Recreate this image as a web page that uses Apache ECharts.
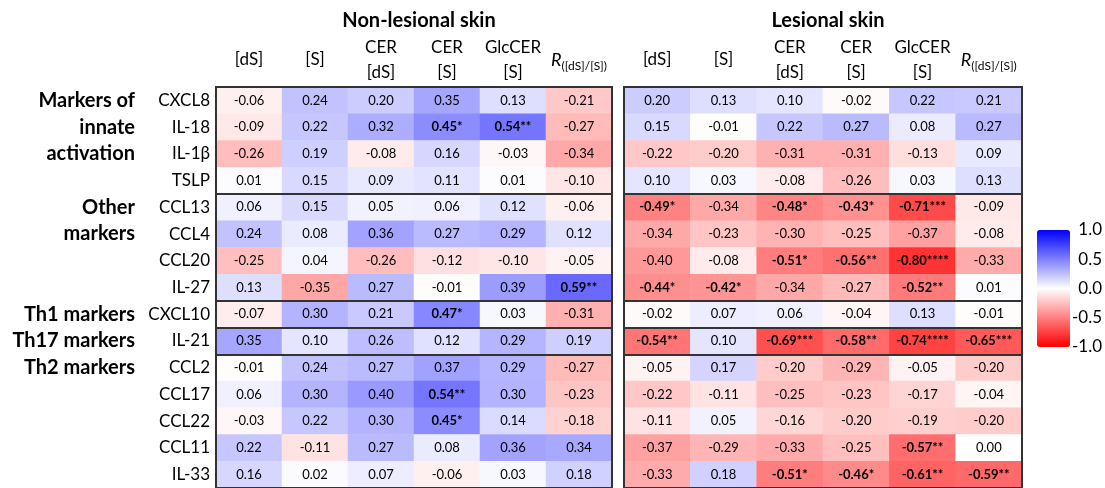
<!DOCTYPE html>
<html>
<head>
<meta charset="utf-8">
<script src="https://cdn.jsdelivr.net/npm/echarts@6/dist/echarts.min.js"></script>
<style>
  html, body { margin: 0; padding: 0; background: #fff; }
  #main { width: 1105px; height: 488px; }
</style>
</head>
<body>
<div id="main"></div>
<script>
var columns = ['[dS]', '[S]', 'CER\n[dS]', 'CER\n[S]', 'GlcCER\n[S]', 'R([dS]/[S])'];
var markers = ['CXCL8', 'IL-18', 'IL-1β', 'TSLP', 'CCL13', 'CCL4', 'CCL20', 'IL-27',
               'CXCL10', 'IL-21', 'CCL2', 'CCL17', 'CCL22', 'CCL11', 'IL-33'];
var groupLabels = ['Markers of', 'innate', 'activation', '', 'Other', 'markers', '', '',
                   'Th1 markers', 'Th17 markers', 'Th2 markers', '', '', '', ''];
// rows where a new marker group starts (thick line above)
var groupStarts = [4, 8, 9, 10];

var nonLesional = [
  [-0.06, 0.24, 0.20, 0.35, 0.13, -0.21],
  [-0.09, 0.22, 0.32, 0.45, 0.54, -0.27],
  [-0.26, 0.19, -0.08, 0.16, -0.03, -0.34],
  [0.01, 0.15, 0.09, 0.11, 0.01, -0.10],
  [0.06, 0.15, 0.05, 0.06, 0.12, -0.06],
  [0.24, 0.08, 0.36, 0.27, 0.29, 0.12],
  [-0.25, 0.04, -0.26, -0.12, -0.10, -0.05],
  [0.13, -0.35, 0.27, -0.01, 0.39, 0.59],
  [-0.07, 0.30, 0.21, 0.47, 0.03, -0.31],
  [0.35, 0.10, 0.26, 0.12, 0.29, 0.19],
  [-0.01, 0.24, 0.27, 0.37, 0.29, -0.27],
  [0.06, 0.30, 0.40, 0.54, 0.30, -0.23],
  [-0.03, 0.22, 0.30, 0.45, 0.14, -0.18],
  [0.22, -0.11, 0.27, 0.08, 0.36, 0.34],
  [0.16, 0.02, 0.07, -0.06, 0.03, 0.18]
];
// [row, col, stars]
var nonLesionalStars = [[1, 3, '*'], [1, 4, '**'], [7, 5, '**'], [8, 3, '*'], [11, 3, '**'], [12, 3, '*']];

var lesional = [
  [0.20, 0.13, 0.10, -0.02, 0.22, 0.21],
  [0.15, -0.01, 0.22, 0.27, 0.08, 0.27],
  [-0.22, -0.20, -0.31, -0.31, -0.13, 0.09],
  [0.10, 0.03, -0.08, -0.26, 0.03, 0.13],
  [-0.49, -0.34, -0.48, -0.43, -0.71, -0.09],
  [-0.34, -0.23, -0.30, -0.25, -0.37, -0.08],
  [-0.40, -0.08, -0.51, -0.56, -0.80, -0.33],
  [-0.44, -0.42, -0.34, -0.27, -0.52, 0.01],
  [-0.02, 0.07, 0.06, -0.04, 0.13, -0.01],
  [-0.54, 0.10, -0.69, -0.58, -0.74, -0.65],
  [-0.05, 0.17, -0.20, -0.29, -0.05, -0.20],
  [-0.22, -0.11, -0.25, -0.23, -0.17, -0.04],
  [-0.11, 0.05, -0.16, -0.20, -0.19, -0.20],
  [-0.37, -0.29, -0.33, -0.25, -0.57, 0.00],
  [-0.33, 0.18, -0.51, -0.46, -0.61, -0.59]
];
var lesionalStars = [
  [4, 0, '*'], [4, 2, '*'], [4, 3, '*'], [4, 4, '***'],
  [6, 2, '*'], [6, 3, '**'], [6, 4, '****'],
  [7, 0, '*'], [7, 1, '*'], [7, 4, '**'],
  [9, 0, '**'], [9, 2, '***'], [9, 3, '**'], [9, 4, '****'], [9, 5, '***'],
  [13, 4, '**'],
  [14, 2, '*'], [14, 3, '*'], [14, 4, '**'], [14, 5, '**']
];

var FONT = 'Lato';

function buildData(matrix, stars) {
  var out = [];
  matrix.forEach(function (row, r) {
    row.forEach(function (v, c) {
      var s = '';
      stars.forEach(function (st) { if (st[0] === r && st[1] === c) s = st[2]; });
      var item = { value: [c, r, v], stars: s };
      if (s) item.label = { fontWeight: 'bold' };
      out.push(item);
    });
  });
  return out;
}

function cellLabel(p) {
  return p.value[2].toFixed(2) + (p.data.stars || '');
}

function colHeader(v) {
  if (v.indexOf('R(') === 0) return '{ri|R}{rs|' + v.slice(1) + '}';
  return v;
}

var myChart = echarts.init(document.getElementById('main'));

var xAxisBase = {
  type: 'category',
  data: columns,
  position: 'top',
  axisLine: { show: false },
  axisTick: { show: false },
  splitLine: { show: false },
  axisLabel: {
    interval: 0,
    formatter: colHeader,
    color: '#000',
    fontFamily: FONT,
    fontSize: 17,
    lineHeight: 25,
    verticalAlign: 'middle',
    margin: 27,
    rich: {
      ri: { fontStyle: 'italic', fontSize: 18, lineHeight: 24, verticalAlign: 'middle', fontFamily: FONT, color: '#000' },
      rs: { fontSize: 12, lineHeight: 12, verticalAlign: 'bottom', fontFamily: FONT, color: '#000' }
    }
  }
};

function yAxisBase(gridIndex, showLabels) {
  return {
    type: 'category',
    gridIndex: gridIndex,
    position: 'left',
    data: markers,
    inverse: true,
    z: 10,
    axisLine: { show: false },
    axisTick: { show: false },
    axisLabel: {
      show: showLabels,
      interval: 0,
      color: '#000',
      fontFamily: FONT,
      fontSize: 17,
      margin: 6
    },
    splitLine: {
      show: true,
      interval: function (i) { return groupStarts.indexOf(i) >= 0; },
      lineStyle: { color: '#333', width: 2 }
    }
  };
}

var gridBox = { top: 87, height: 405, show: true, borderColor: '#333', borderWidth: 2,
                backgroundColor: 'transparent', z: 10 };

var option = {
  animation: false,
  title: [
    { text: 'Non-lesional skin', left: 414, top: 6, textAlign: 'center',
      textStyle: { fontFamily: FONT, fontSize: 20, fontWeight: 'bold', color: '#000' } },
    { text: 'Lesional skin', left: 823, top: 6, textAlign: 'center',
      textStyle: { fontFamily: FONT, fontSize: 20, fontWeight: 'bold', color: '#000' } }
  ],
  grid: [
    Object.assign({ left: 216, width: 396 }, gridBox),
    Object.assign({ left: 624, width: 398 }, gridBox),
    { left: 1037, top: 230, width: 33, height: 117 }
  ],
  xAxis: [
    Object.assign({ gridIndex: 0 }, xAxisBase),
    Object.assign({ gridIndex: 1 }, xAxisBase),
    { type: 'value', gridIndex: 2, show: false, min: 0, max: 1 }
  ],
  yAxis: [
    yAxisBase(0, true),
    yAxisBase(1, false),
    // group labels, second column of row labels
    {
      type: 'category', gridIndex: 0, position: 'left', offset: 0, data: groupLabels, inverse: true,
      axisLine: { show: false }, axisTick: { show: false }, splitLine: { show: false },
      axisLabel: { interval: 0, color: '#000', fontFamily: FONT, fontSize: 20, fontWeight: 'bold', margin: 81 }
    },
    // colour bar scale
    {
      type: 'value', gridIndex: 2, position: 'right', min: -1, max: 1, interval: 0.5,
      axisLine: { show: false }, axisTick: { show: false }, splitLine: { show: false },
      axisLabel: {
        color: '#000', fontFamily: FONT, fontSize: 17, align: 'right', margin: 32,
        formatter: function (v) { return v.toFixed(1); }
      }
    }
  ],
  visualMap: {
    type: 'continuous',
    min: -1,
    max: 1,
    seriesIndex: [0, 1],
    calculable: false,
    left: 1037,
    top: 230,
    itemWidth: 33,
    itemHeight: 117,
    padding: 0,
    text: null,
    showLabel: false,
    inRange: { color: ['#ff0000', '#ffffff', '#0000ff'] }
  },
  series: [
    {
      type: 'heatmap', xAxisIndex: 0, yAxisIndex: 0,
      data: buildData(nonLesional, nonLesionalStars),
      label: { show: true, formatter: cellLabel, color: '#000', fontFamily: FONT, fontSize: 13 },
      emphasis: { disabled: true }
    },
    {
      type: 'heatmap', xAxisIndex: 1, yAxisIndex: 1,
      data: buildData(lesional, lesionalStars),
      label: { show: true, formatter: cellLabel, color: '#000', fontFamily: FONT, fontSize: 13 },
      emphasis: { disabled: true }
    }
  ]
};

myChart.setOption(option);
</script>
</body>
</html>
